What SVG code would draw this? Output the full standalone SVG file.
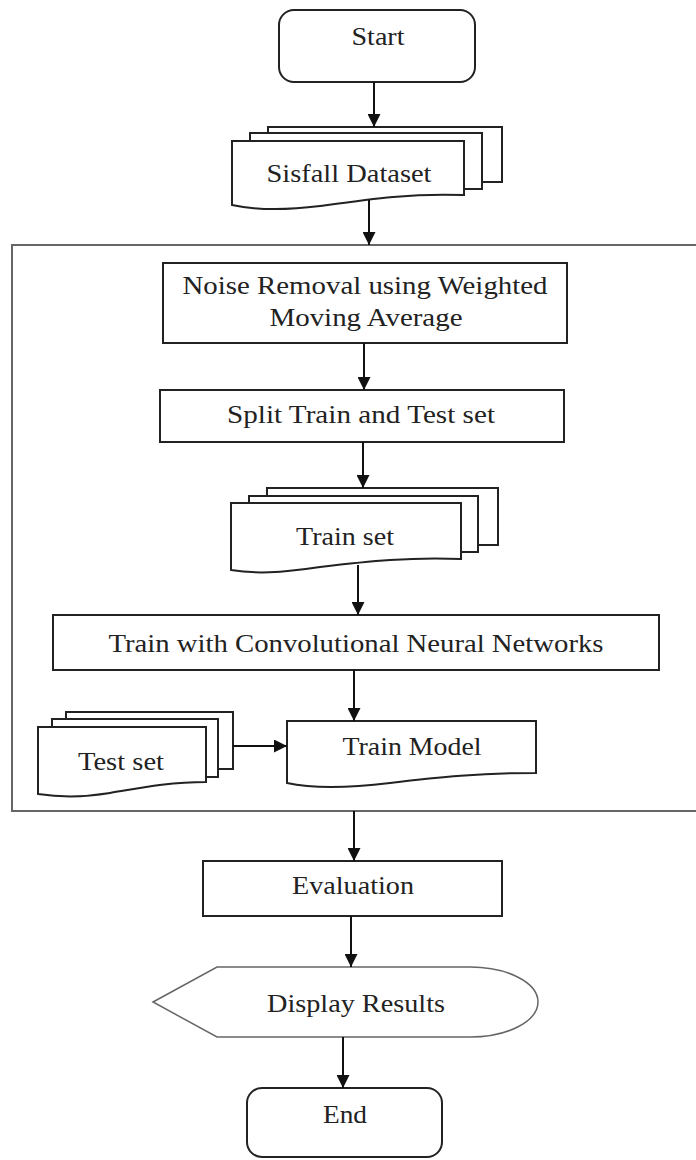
<svg xmlns="http://www.w3.org/2000/svg" width="696" height="1160" viewBox="0 0 696 1160">
<defs>
<style>
.s{fill:#fff;stroke:#222;stroke-width:2}
.d{fill:#fff;stroke:#666;stroke-width:1.5}
.c{fill:none;stroke:#666;stroke-width:2}
.t{font-family:"Liberation Serif","Times New Roman",serif;font-size:26px;fill:#222;text-anchor:middle}
.e{stroke:#111;stroke-width:2;fill:none}
</style>
<marker id="ah" markerWidth="13" markerHeight="13" refX="13" refY="6.5" orient="auto" markerUnits="userSpaceOnUse">
<path d="M0,0 L13,6.5 L0,13 Z" fill="#111"/>
</marker>
</defs>
<rect width="696" height="1160" fill="#fff"/>

<g id="container">
<rect class="c" x="12" y="245" width="690" height="566"/>
</g>

<g id="start">
<rect class="s" x="279" y="10" width="196" height="72" rx="15"/>
<text class="t" x="378" y="45" textLength="53" lengthAdjust="spacingAndGlyphs">Start</text>
</g>

<g id="sisfall">
<rect class="s" x="268" y="127" width="234" height="55"/>
<rect class="s" x="250" y="133" width="232" height="56"/>
<path class="s" d="M232,141 H464 V195 C410,193 370,199 320,206 C280,211 255,210 232,205 Z"/>
<text class="t" x="349" y="182" textLength="165" lengthAdjust="spacingAndGlyphs">Sisfall Dataset</text>
</g>

<g id="noise">
<rect class="s" x="163" y="263" width="404" height="80"/>
<text class="t" x="365" y="294" textLength="365" lengthAdjust="spacingAndGlyphs">Noise Removal using Weighted</text>
<text class="t" x="366" y="326" textLength="193" lengthAdjust="spacingAndGlyphs">Moving Average</text>
</g>

<g id="split">
<rect class="s" x="160" y="390" width="404" height="52"/>
<text class="t" x="361" y="423" textLength="268" lengthAdjust="spacingAndGlyphs">Split Train and Test set</text>
</g>

<g id="trainset">
<rect class="s" x="267" y="488" width="231" height="57"/>
<rect class="s" x="249" y="496" width="229" height="56"/>
<path class="s" d="M231,503 H461 V559 C410,557 370,561 320,567 C280,573 255,574 231,570 Z"/>
<text class="t" x="345" y="545" textLength="98" lengthAdjust="spacingAndGlyphs">Train set</text>
</g>

<g id="cnn">
<rect class="s" x="53" y="615" width="606" height="55"/>
<text class="t" x="356" y="652" textLength="495" lengthAdjust="spacingAndGlyphs">Train with Convolutional Neural Networks</text>
</g>

<g id="testset">
<rect class="s" x="66" y="712" width="167" height="57"/>
<rect class="s" x="52" y="719" width="166" height="58"/>
<path class="s" d="M38,727 H206 V782 C170,782 140,788 110,793 C80,798 58,797 38,794 Z"/>
<text class="t" x="121" y="770" textLength="86" lengthAdjust="spacingAndGlyphs">Test set</text>
</g>

<g id="trainmodel">
<path class="s" d="M287,721 H536 V773 C480,773 440,777 390,783 C340,789 310,788 287,783 Z"/>
<text class="t" x="412" y="755" textLength="139" lengthAdjust="spacingAndGlyphs">Train Model</text>
</g>

<g id="evaluation">
<rect class="s" x="203" y="861" width="299" height="55"/>
<text class="t" x="353" y="894" textLength="122" lengthAdjust="spacingAndGlyphs">Evaluation</text>
</g>

<g id="display">
<path class="d" d="M153,1002 L217,967 H470 A68,35 0 0 1 470,1037 H217 Z"/>
<text class="t" x="356" y="1012" textLength="178" lengthAdjust="spacingAndGlyphs">Display Results</text>
</g>

<g id="end">
<rect class="s" x="247" y="1088" width="195" height="69" rx="15"/>
<text class="t" x="345" y="1123" textLength="44" lengthAdjust="spacingAndGlyphs">End</text>
</g>

<g id="connectors">
<line class="e" x1="374" y1="82" x2="374" y2="127" marker-end="url(#ah)"/>
<line class="e" x1="369" y1="200" x2="369" y2="245" marker-end="url(#ah)"/>
<line class="e" x1="364" y1="343" x2="364" y2="390" marker-end="url(#ah)"/>
<line class="e" x1="363" y1="442" x2="363" y2="488" marker-end="url(#ah)"/>
<line class="e" x1="358" y1="565" x2="358" y2="615" marker-end="url(#ah)"/>
<line class="e" x1="354" y1="670" x2="354" y2="721" marker-end="url(#ah)"/>
<line class="e" x1="233" y1="746" x2="287" y2="746" marker-end="url(#ah)"/>
<line class="e" x1="354" y1="811" x2="354" y2="861" marker-end="url(#ah)"/>
<line class="e" x1="351" y1="916" x2="351" y2="967" marker-end="url(#ah)"/>
<line class="e" x1="343" y1="1037" x2="343" y2="1088" marker-end="url(#ah)"/>
</g>
</svg>
